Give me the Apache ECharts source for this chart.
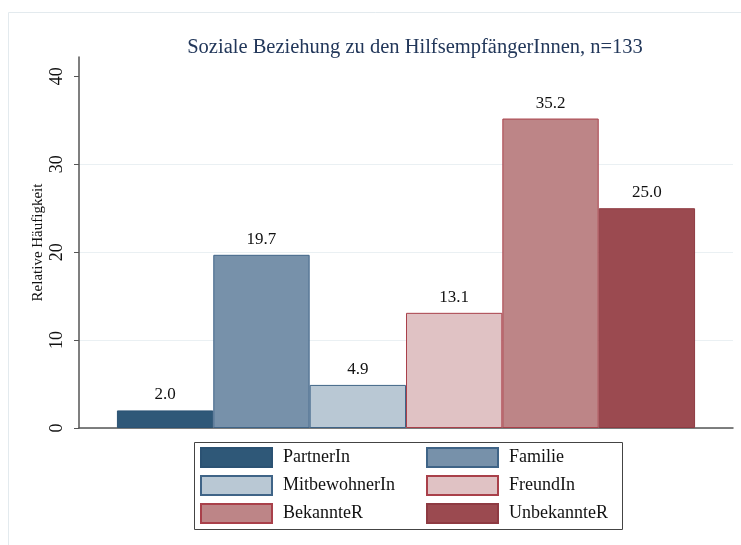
<!DOCTYPE html>
<html>
<head>
<meta charset="utf-8">
<script src="https://cdn.jsdelivr.net/npm/echarts@6/dist/echarts.min.js"></script>
<style>
  html, body { margin: 0; padding: 0; background: #fff; }
  #chart { width: 741px; height: 545px; }
</style>
</head>
<body>
<div id="chart"></div>
<script>
// data
var groups = ['PartnerIn', 'Familie', 'MitbewohnerIn', 'FreundIn', 'BekannteR', 'UnbekannteR'];
var values = [2.0, 19.7, 4.9, 13.1, 35.2, 25.0];
var fills = ['#2f5878', '#7791aa', '#b9c8d4', '#e0c2c4', '#bd8587', '#9b4a50'];
var borders = ['#2b5273', '#3f6487', '#3f6487', '#a9404a', '#a9404a', '#8e3a42'];
var yTicks = [0, 10, 20, 30, 40];

var chart = echarts.init(document.getElementById('chart'));
var serif = 'Liberation Serif';

var series = [];
for (var i = 0; i < groups.length; i++) {
  series.push({
    name: groups[i],
    type: 'bar',
    data: [values[i]],
    barGap: '0%',
    barCategoryGap: '11.6%',
    itemStyle: { color: fills[i], borderColor: borders[i], borderWidth: 1 },
    label: {
      show: true,
      position: 'top',
      distance: 7,
      fontFamily: serif,
      fontSize: 17,
      color: '#111',
      formatter: function (p) { return p.value.toFixed(1); }
    }
  });
}

function legendBox(items, x) {
  return {
    orient: 'vertical', left: x, top: 447, padding: 0, itemGap: 7,
    itemWidth: 71, itemHeight: 19, icon: 'rect',
    data: items,
    textStyle: { fontFamily: serif, fontSize: 18, color: '#111', padding: [0, 0, 0, 6] }
  };
}

var option = {
  backgroundColor: '#fff',
  animation: false,
  title: {
    text: 'Soziale Beziehung zu den HilfsempfängerInnen, n=133',
    left: 410,
    textAlign: 'center',
    top: 32,
    textStyle: { fontFamily: serif, fontSize: 20.5, fontWeight: 'normal', color: '#22375a' }
  },
  grid: { left: 79, right: 8, top: 57, bottom: 117 },
  xAxis: {
    type: 'category',
    data: [''],
    axisLine: { lineStyle: { color: '#555', width: 1.5 } },
    axisTick: { show: false },
    axisLabel: { show: false }
  },
  yAxis: {
    type: 'value',
    min: 0,
    max: 42.2,
    interval: 10,
    name: 'Relative Häufigkeit',
    nameLocation: 'middle',
    nameGap: 33,
    nameMoveOverlap: false,
    nameTextStyle: { fontFamily: serif, fontSize: 15, color: '#111' },
    axisLine: { show: true, lineStyle: { color: '#555', width: 1.5 } },
    axisTick: { show: true, length: 5, lineStyle: { color: '#555' }, customValues: yTicks },
    axisLabel: {
      rotate: 90, margin: 13, fontFamily: serif, fontSize: 18, color: '#111',
      customValues: yTicks
    },
    splitLine: { show: true, showMaxLine: false, lineStyle: { color: '#eaf0f3', width: 1 } }
  },
  legend: [
    legendBox([groups[0], groups[2], groups[4]], 200),
    legendBox([groups[1], groups[3], groups[5]], 426)
  ],
  graphic: [
    {
      type: 'rect', left: 8, top: 12, z: -10, silent: true,
      shape: { width: 800, height: 600 },
      style: { fill: '#fff', stroke: '#e3eaee', lineWidth: 1 }
    },
    {
      type: 'rect', left: 192, top: 440, silent: true,
      shape: { width: 428, height: 87 },
      style: { fill: 'none', stroke: '#444', lineWidth: 1 }
    }
  ],
  series: series
};

chart.setOption(option);
</script>
</body>
</html>
